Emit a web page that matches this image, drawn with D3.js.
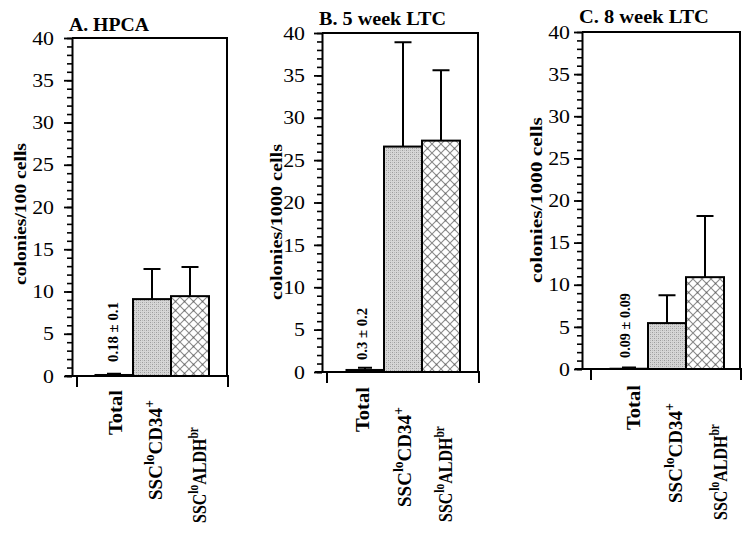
<!DOCTYPE html>
<html>
<head>
<meta charset="utf-8">
<script src="https://cdn.jsdelivr.net/npm/d3@7"></script>
<style>
  html, body { margin: 0; padding: 0; background: #fff; }
  svg { display: block; }
  text { font-family: "Liberation Serif", "Times New Roman", serif; fill: #000; }
</style>
</head>
<body>
<svg id="chart" width="751" height="535"></svg>
<script>
// ---------------- data ----------------
const categories = ["Total", "SSCloCD34+", "SSCloALDHbr"];
// label parts: [text, isSuperscript]
const categoryParts = [
  [["Total", 0]],
  [["SSC", 0], ["lo", 1], ["CD34", 0], ["+", 1]],
  [["SSC", 0], ["lo", 1], ["ALDH", 0], ["br", 1]]
];
const panelTitles = ["A. HPCA", "B. 5 week LTC", "C. 8 week LTC"];
const yAxisLabels = ["colonies/100 cells", "colonies/1000 cells", "colonies/1000 cells"];
const hpcaMeans = [0.18, 9.1, 9.45];
const hpcaErrors = [0.1, 3.55, 3.45];
const ltc5Means = [0.3, 26.6, 27.3];
const ltc5Errors = [0.2, 12.3, 8.3];
const ltc8Means = [0.09, 5.45, 10.9];
const ltc8Errors = [0.09, 3.3, 7.25];
const totalAnnotations = ["0.18 \u00b1 0.1", "0.3 \u00b1 0.2", "0.09 \u00b1 0.09"];
const yMajorTicks = [0, 5, 10, 15, 20, 25, 30, 35, 40];
const yDomain = [0, 40];

// ---------------- layout ----------------
const layouts = [
  {axisX: 72, top: 38, bottom: 376, right: 227, barStart: 95, barW: 38, titleY: 30.5, titleLen: 80, tickGap: 18,
   ylabX: 20, ylabMid: 214, ylabLen: 142, xTickOff: 5, labCx: [115, 153, 197], labBottom: [435, 500, 523],
   annCx: 113, annBottom: 362, annLen: 60},
  {axisX: 322, top: 33, bottom: 372, right: 478, barStart: 346, barW: 38, titleY: 25, titleLen: 127, tickGap: 17,
   ylabX: 276, ylabMid: 222, ylabLen: 156, xTickOff: 5, labCx: [362, 402, 443], labBottom: [432, 507, 522],
   annCx: 362, annBottom: 360, annLen: 52},
  {axisX: 582, top: 32, bottom: 369, right: 740, barStart: 610, barW: 38, titleY: 22.5, titleLen: 130, tickGap: 12,
   ylabX: 536, ylabMid: 200, ylabLen: 166, xTickOff: 9, labCx: [633, 673, 718], labBottom: [430, 503, 520],
   annCx: 625, annBottom: 358, annLen: 65}
];
const panelData = [
  {means: hpcaMeans, errors: hpcaErrors},
  {means: ltc5Means, errors: ltc5Errors},
  {means: ltc8Means, errors: ltc8Errors}
];

const svg = d3.select("#chart");
const defs = svg.append("defs");

// stipple pattern
const stip = defs.append("pattern").attr("id", "stipple").attr("patternUnits", "userSpaceOnUse")
  .attr("width", 4).attr("height", 4);
stip.append("rect").attr("width", 4).attr("height", 4).attr("fill", "#d6d6d6");
[[0, 0], [2, 2], [2, 0], [0, 2]].forEach(([x, y], i) =>
  stip.append("rect").attr("x", x).attr("y", y).attr("width", 1).attr("height", 1)
    .attr("fill", i < 2 ? "#9c9c9c" : "#bababa"));

// crosshatch pattern
const hatch = defs.append("pattern").attr("id", "hatch").attr("patternUnits", "userSpaceOnUse")
  .attr("width", 9).attr("height", 9);
hatch.append("rect").attr("width", 9).attr("height", 9).attr("fill", "#fff");
hatch.append("path").attr("d", "M-1,-1 L10,10 M10,-1 L-1,10")
  .attr("stroke", "#8a8a8a").attr("stroke-width", 1.1).attr("fill", "none");
hatch.append("rect").attr("x", 3.8).attr("y", 3.8).attr("width", 1.4).attr("height", 1.4).attr("fill", "#666");

const barFills = ["#000", "url(#stipple)", "url(#hatch)"];

// text helper: rotated or horizontal text stretched to a target length
function stretchedText(parent, x, y, rotate, parts, size, weight, targetLen, anchor) {
  const g = parent.append("g").attr("transform", `translate(${x},${y}) rotate(${rotate})`);
  const t = g.append("text").attr("font-size", size).attr("font-weight", weight)
    .attr("text-anchor", anchor || "start");
  let prevSup = false;
  parts.forEach(([s, sup]) => {
    const ts = t.append("tspan").text(s);
    if (sup) { ts.attr("font-size", size * 0.72).attr("dy", prevSup ? 0 : -size * 0.42); }
    else if (prevSup) { ts.attr("dy", size * 0.42); }
    prevSup = !!sup;
  });
  const len = t.node().getComputedTextLength();
  const s = targetLen / len;
  t.attr("transform", `scale(${s},1)`);
  return t;
}

layouts.forEach((L, p) => {
  const d = panelData[p];
  const g = svg.append("g");
  const y = d3.scaleLinear().domain(yDomain).range([L.bottom, L.top]);
  const x = d3.scaleBand().domain(categories)
    .range([L.barStart, L.barStart + L.barW * categories.length]).padding(0);

  // frame (top + right)
  g.append("path")
    .attr("d", `M${L.axisX},${L.top} H${L.right} V${L.bottom}`)
    .attr("fill", "none").attr("stroke", "#000").attr("stroke-width", 2);

  // bars
  g.selectAll("rect.bar").data(d.means).join("rect").attr("class", "bar")
    .attr("x", (v, i) => x(categories[i]))
    .attr("y", v => y(v))
    .attr("width", x.bandwidth())
    .attr("height", v => y(0) - y(v))
    .attr("fill", (v, i) => barFills[i])
    .attr("stroke", "#000").attr("stroke-width", (v, i) => i === 0 ? 1 : 2);

  // error bars (upward only)
  d.means.forEach((m, i) => {
    const cx = x(categories[i]) + x.bandwidth() / 2;
    const capHalf = i === 0 ? 7 : 8.5;
    const top = y(m + d.errors[i]);
    g.append("path")
      .attr("d", `M${cx},${y(m)} V${top} M${cx - capHalf},${top} H${cx + capHalf}`)
      .attr("stroke", "#000").attr("stroke-width", 2).attr("fill", "none");
  });

  // x baseline with end ticks
  g.append("path")
    .attr("d", `M${L.axisX - 7},${L.bottom} H${L.right + 2} M${L.axisX + L.xTickOff},${L.bottom} V${L.bottom + 11} M${L.right + 1},${L.bottom} V${L.bottom + 11}`)
    .attr("stroke", "#000").attr("stroke-width", 2).attr("fill", "none");

  // y axis: minor ticks
  const minor = g.append("g").attr("transform", `translate(${L.axisX},0)`)
    .call(d3.axisLeft(y).tickValues(d3.range(0, 41, 1)).tickSize(5).tickSizeOuter(0).tickFormat(""));
  minor.select(".domain").remove();
  minor.selectAll("line").attr("stroke-width", 1.6);

  // y axis: major ticks + labels
  const major = g.append("g").attr("transform", `translate(${L.axisX},0)`)
    .call(d3.axisLeft(y).tickValues(yMajorTicks).tickSize(8).tickSizeOuter(0).tickPadding(9));
  major.select(".domain").attr("stroke-width", 2);
  major.selectAll("line").attr("stroke-width", 1.8);
  major.selectAll("text")
    .attr("font-family", "'Liberation Serif', 'Times New Roman', serif")
    .attr("font-size", 19.5)
    .attr("x", -L.tickGap / 1.12)
    .attr("transform", "scale(1.12,1)");

  // title
  stretchedText(g, L.axisX - 3, L.titleY, 0, [[panelTitles[p], 0]], 19.5, "bold", L.titleLen);

  // y axis label
  stretchedText(g, L.ylabX + 6, L.ylabMid, -90, [[yAxisLabels[p], 0]], 17.5, "bold", L.ylabLen, "middle");

  // annotation for total bar
  stretchedText(g, L.annCx + 5, L.annBottom, -90, [[totalAnnotations[p], 0]], 14.5, "bold", L.annLen);

  // category labels
  const targetLens = [45, 100, 96];
  const centerShift = [6.5, 8.5, 8.5];
  categories.forEach((c, i) => {
    stretchedText(g, L.labCx[i] + centerShift[i], L.labBottom[i], -90, categoryParts[i], 19, "bold", targetLens[i]);
  });
});
</script>
</body>
</html>
